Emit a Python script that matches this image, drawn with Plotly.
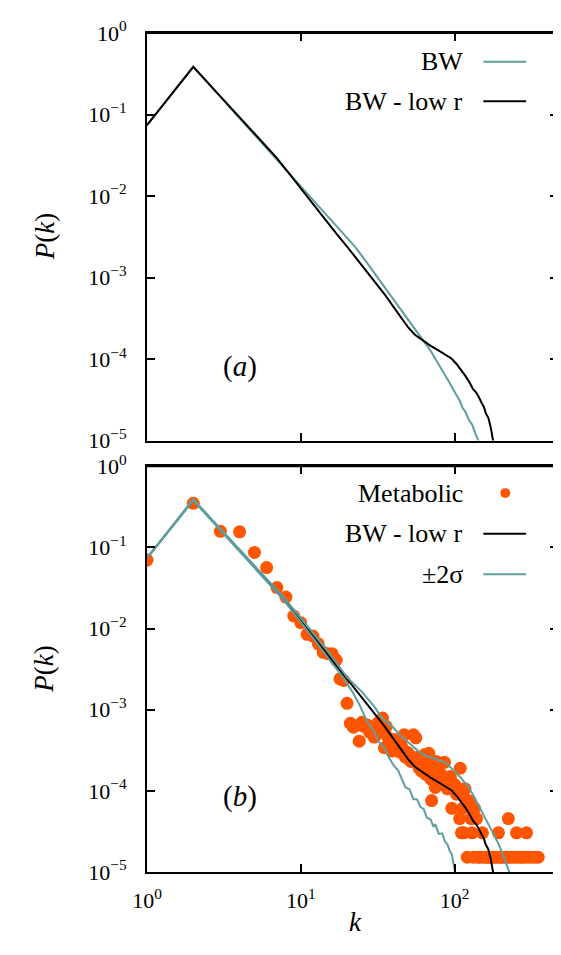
import plotly.graph_objects as go

# ---------------- data ----------------
bw_k = [1, 2, 3, 4, 5, 6, 7, 8, 10, 12, 15, 17, 20, 22.5, 25, 30, 35, 40, 45, 50, 57, 64.6,
        70, 75, 80, 87, 93, 100, 108, 113, 117, 124, 130, 137, 143, 150]
bw_p = [0.0741, 0.3837, 0.1644, 0.0902, 0.0565, 0.0386, 0.0280, 0.0211, 0.01327, 0.00908,
        0.00569, 0.00437, 0.00308, 0.00240, 0.00184, 0.00115, 0.000776, 0.000550, 0.000407,
        0.000309, 0.000219, 0.000160, 0.000126, 0.000101, 8.3e-5, 6.3e-5, 5.1e-5, 3.98e-5,
        3.1e-5, 2.5e-5, 2.3e-5, 1.8e-5, 1.58e-5, 1.2e-5, 1.0e-5, 7.6e-6]

lowr_k = [1, 2, 3, 4, 5, 6, 7, 8, 10, 12, 15, 17, 20, 25, 30, 35, 40, 45, 50, 55, 60, 65, 70,
          80, 90, 96, 103, 109, 117, 125, 132, 138, 143, 150, 155, 160, 166, 172, 179, 186]
lowr_p = [0.0741, 0.3837, 0.167, 0.0927, 0.0586, 0.0404, 0.0292, 0.0213, 0.01239, 0.00796,
          0.00463, 0.00349, 0.0024, 0.00142, 0.00093, 0.000628, 0.00044, 0.000326, 0.000244,
          0.0002, 0.000178, 0.000159, 0.000145, 0.000125, 0.00011, 0.000101, 8.7e-5, 7.6e-5,
          6.3e-5, 5.2e-5, 4.27e-5, 3.9e-5, 3.5e-5, 2.9e-5, 2.6e-5, 2.15e-5, 1.9e-5, 1.45e-5,
          1.0e-5, 6.3e-6]

up_k = [1, 2, 3, 4, 5, 6, 7, 8, 10, 12, 15, 20, 25, 30, 34, 40, 45, 52, 58, 64, 70, 78, 85, 92,
        100, 110, 118, 125, 133, 140, 150, 158, 167, 175, 184, 193, 201, 210, 220, 229, 238]
up_p = [0.0741, 0.395, 0.17, 0.095, 0.060, 0.0412, 0.0300, 0.0226, 0.0136, 0.0088, 0.0053,
        0.0025, 0.00166, 0.0011, 0.00078, 0.000603, 0.000468, 0.000372, 0.000309, 0.000275,
        0.000257, 0.00024, 0.000229, 0.000204, 0.000174, 0.000145, 0.000123, 0.000107, 8.7e-5,
        7.2e-5, 5.6e-5, 4.7e-5, 3.8e-5, 3.24e-5, 2.7e-5, 2.24e-5, 1.86e-5, 1.51e-5, 1.23e-5,
        1.0e-5, 7.9e-6]

lo_k = [1, 2, 3, 4, 5, 6, 7, 8, 10, 12, 15, 18, 21.7, 24, 27, 30, 32, 35, 37, 40, 43, 46, 48,
        51, 54, 57, 60, 63, 66, 70, 73, 75, 79, 83, 87, 90, 93, 96, 99, 101, 104]
lo_p = [0.0741, 0.38, 0.163, 0.09, 0.0565, 0.0385, 0.0277, 0.0208, 0.0122, 0.0077, 0.0044,
        0.0028, 0.00166, 0.00117, 0.000714, 0.000537, 0.000407, 0.000339, 0.000269, 0.000209,
        0.000178, 0.000129, 0.00011, 0.000105, 7.9e-5, 7.9e-5, 6.3e-5, 6.0e-5, 4.7e-5, 4.4e-5,
        3.6e-5, 3.9e-5, 2.95e-5, 3.0e-5, 2.34e-5, 2.19e-5, 1.82e-5, 1.66e-5, 1.2e-5, 1.07e-5,
        7.1e-6]

met_k = [1, 2, 3, 4, 5, 6, 7, 8, 9, 10, 11, 12, 13, 14, 15, 16, 17, 18, 19, 20, 21, 22, 23, 24,
         25, 26, 27, 28, 29, 30, 31, 32, 33, 34, 35, 36, 37, 38, 39, 40, 41, 42, 43, 44, 45, 46,
         47, 48, 49, 50, 52, 53, 54, 55, 56, 57, 58, 59, 60, 61, 62, 63, 64, 65, 66, 67, 68, 69,
         70, 71, 72, 73, 74, 75, 76, 78, 79, 80, 82, 84, 86, 88, 90, 92, 94, 96, 98, 100, 103,
         106, 108, 109, 111, 113, 115, 117, 120, 121, 123, 126, 128, 130, 133, 135, 139, 142,
         146, 152, 155, 160, 165, 171, 176, 182, 188, 193, 197, 205, 212, 219, 224, 230, 240,
         248, 253, 262, 271, 283, 294, 301, 318, 336, 350]
met_p = [0.070, 0.350, 0.158, 0.156, 0.087, 0.0565, 0.032, 0.0245, 0.0143, 0.0118, 0.0085,
         0.0081, 0.0065, 0.0051, 0.0049, 0.0049, 0.0041, 0.0024, 0.0023, 0.0012, 0.00068,
         0.00061, 0.00064, 0.00041, 0.00070, 0.00062, 0.00065, 0.00053, 0.00053, 0.00046,
         0.00049, 0.00070, 0.00056, 0.00079, 0.00034, 0.00062, 0.00045, 0.00040, 0.00031,
         0.00038, 0.00043, 0.00035, 0.00032, 0.00030, 0.00041, 0.00033, 0.00049, 0.00026,
         0.00030, 0.00029, 0.00023, 0.00026, 0.00049, 0.00024, 0.00045, 0.00023, 0.00026,
         0.00019, 0.00024, 0.000175, 0.00021, 0.00023, 0.00028, 0.00016, 0.00017, 0.00021,
         0.00029, 0.00018, 0.00014, 0.000076, 0.00015, 0.00020, 0.000125, 0.00011, 0.00023,
         0.00014, 0.000215, 0.00017, 0.00012, 0.00015, 0.000225, 0.00014, 0.000106, 0.00012,
         0.00015, 0.000061, 0.000106, 0.00012, 0.000091, 0.000106, 0.0000456, 0.00019,
         0.0000304, 0.000061, 0.0000304, 0.000106, 0.000076, 0.0000152, 0.000076, 0.000069,
         0.0000456, 0.0000304, 0.0000152, 0.000061, 0.0000456, 0.0000152, 0.0000152,
         0.0000304, 0.0000152, 0.0000152, 0.0000152, 0.0000152, 0.0000152, 0.0000152,
         0.0000152, 0.0000304, 0.0000152, 0.0000152, 0.0000152, 0.0000152, 0.0000456,
         0.0000152, 0.0000152, 0.0000152, 0.0000304, 0.0000152, 0.0000152, 0.0000152,
         0.0000304, 0.0000152, 0.0000152, 0.0000152, 0.0000152]

# ticks: labelled decades, plus unlabelled minor ticks on an overlay axis
x_major = [1, 10, 100]
x_major_text = ["10<sup>0</sup>", "10<sup>1</sup>", "10<sup>2</sup>"]
x_minor = [2, 3, 4, 5, 6, 7, 8, 9, 20, 30, 40, 50, 60, 70, 80, 90, 200, 300, 400]
y_major = [1e-5, 1e-4, 1e-3, 1e-2, 1e-1, 1]
y_major_text = ["10<sup>\u22125</sup>", "10<sup>\u22124</sup>", "10<sup>\u22123</sup>",
                "10<sup>\u22122</sup>", "10<sup>\u22121</sup>", "10<sup>0</sup>"]
y_minor = [2e-5, 5e-5, 2e-4, 5e-4, 2e-3, 5e-3, 2e-2, 5e-2, 2e-1, 5e-1]

# ---------------- styles ----------------
TEAL = "#5f9ea0"
ORANGE = "#ff5500"
FONT = "Liberation Serif, Times New Roman, Times, serif"
XRANGE = [0, 2.673]
YRANGE = [-5, 0]

fig = go.Figure()

fig.add_trace(go.Scatter(x=bw_k, y=bw_p, mode="lines", line=dict(color=TEAL, width=2),
                         xaxis="x", yaxis="y", showlegend=False))
fig.add_trace(go.Scatter(x=lowr_k, y=lowr_p, mode="lines", line=dict(color="black", width=2),
                         xaxis="x", yaxis="y", showlegend=False))
fig.add_trace(go.Scatter(x=met_k, y=met_p, mode="markers",
                         marker=dict(color=ORANGE, size=13, line=dict(width=0)),
                         xaxis="x2", yaxis="y2", showlegend=False))
fig.add_trace(go.Scatter(x=lowr_k, y=lowr_p, mode="lines", line=dict(color="black", width=2),
                         xaxis="x2", yaxis="y2", showlegend=False))
fig.add_trace(go.Scatter(x=up_k, y=up_p, mode="lines", line=dict(color=TEAL, width=2),
                         xaxis="x2", yaxis="y2", showlegend=False))
fig.add_trace(go.Scatter(x=lo_k, y=lo_p, mode="lines", line=dict(color=TEAL, width=2),
                         xaxis="x2", yaxis="y2", showlegend=False))

TICKFONT = dict(family=FONT, size=22, color="black")

def xax(anchor, labels):
    return dict(type="log", range=XRANGE, anchor=anchor, showgrid=False, zeroline=False,
                showline=True, linecolor="black", linewidth=2, mirror="ticks",
                ticks="inside", ticklen=8, tickwidth=1.5, tickcolor="black",
                tickmode="array", tickvals=x_major, ticktext=x_major_text,
                showticklabels=labels, ticklabelstandoff=8, tickfont=TICKFONT)

def yax(anchor, domain):
    return dict(type="log", range=YRANGE, anchor=anchor, domain=domain, showgrid=False,
                zeroline=False, showline=True, linecolor="black", linewidth=2,
                mirror="ticks", ticks="inside", ticklen=8, tickwidth=1.5, tickcolor="black",
                tickmode="array", tickvals=y_major, ticktext=y_major_text,
                ticklabelstandoff=14, tickfont=TICKFONT)

def xminor(over, anchor):
    return dict(type="log", range=XRANGE, overlaying=over, anchor=anchor, showgrid=False,
                zeroline=False, showline=False, mirror="ticks", ticks="inside", ticklen=4,
                tickwidth=1, tickcolor="black", tickmode="array", tickvals=x_minor,
                showticklabels=False)

def yminor(over, anchor):
    return dict(type="log", range=YRANGE, overlaying=over, anchor=anchor, showgrid=False,
                zeroline=False, showline=False, mirror="ticks", ticks="inside", ticklen=4,
                tickwidth=1, tickcolor="black", tickmode="array", tickvals=y_minor,
                showticklabels=False)

fig.update_layout(
    width=561, height=955,
    margin=dict(l=139, r=9, t=16, b=91),
    paper_bgcolor="white", plot_bgcolor="white",
    font=dict(family=FONT, color="black"),
    xaxis=xax("y", False),
    yaxis=yax("x", [0.5142, 1.0]),
    xaxis2=xax("y2", True),
    yaxis2=yax("x2", [0.0, 0.4835]),
    xaxis3=xminor("x", "y"),
    yaxis3=yminor("y", "x"),
    xaxis4=xminor("x2", "y2"),
    yaxis4=yminor("y2", "x2"),
    showlegend=False,
)

ann = []
shapes = []
LEG = dict(family=FONT, size=26, color="black")

# frame: top and right borders of both panels
for y0, y1 in ((0.5142, 1.0), (0.0, 0.4835)):
    shapes.append(dict(type="line", xref="paper", yref="paper", x0=0, x1=1, y0=y1, y1=y1,
                       line=dict(color="black", width=2), layer="above"))
    shapes.append(dict(type="line", xref="paper", yref="paper", x0=1, x1=1, y0=y0, y1=y1,
                       line=dict(color="black", width=2), layer="above"))

def leg_text(text, yd, yref, xref):
    ann.append(dict(text=text, x=0.7748, y=yd, xref=xref, yref=yref, xanchor="right",
                    yanchor="middle", showarrow=False, font=LEG))

def leg_line(color, yd, yref, xref):
    shapes.append(dict(type="line", x0=0.8184, x1=0.9225, y0=yd, y1=yd, xref=xref, yref=yref,
                       line=dict(color=color, width=2)))

leg_text("BW", 0.9296, "y domain", "x domain")
leg_line(TEAL, 0.9296, "y domain", "x domain")
leg_text("BW - low r", 0.8325, "y domain", "x domain")
leg_line("black", 0.8325, "y domain", "x domain")
leg_text("Metabolic", 0.934, "y2 domain", "x2 domain")
shapes.append(dict(type="circle", xref="x2 domain", yref="y2 domain",
                   x0=0.8717 - 0.0121, x1=0.8717 + 0.0121, y0=0.934 - 0.0122, y1=0.934 + 0.0122,
                   fillcolor=ORANGE, line=dict(width=0)))
leg_text("BW - low r", 0.834, "y2 domain", "x2 domain")
leg_line("black", 0.834, "y2 domain", "x2 domain")
leg_text("\u00b12\u03c3", 0.734, "y2 domain", "x2 domain")
leg_line(TEAL, 0.734, "y2 domain", "x2 domain")

ann.append(dict(text="(<i>a</i>)", x=0.179, y=0.136, xref="x domain", yref="y domain",
                showarrow=False, font=dict(family=FONT, size=29, color="black")))
ann.append(dict(text="(<i>b</i>)", x=0.179, y=0.1415, xref="x2 domain", yref="y2 domain",
                showarrow=False, font=dict(family=FONT, size=29, color="black")))
ann.append(dict(text="<i>P</i>(<i>k</i>)", x=-0.2906, y=0.5, xref="paper", yref="y domain",
                textangle=-90, showarrow=False, font=dict(family=FONT, size=27, color="black")))
ann.append(dict(text="<i>P</i>(<i>k</i>)", x=-0.2906, y=0.5, xref="paper", yref="y2 domain",
                textangle=-90, showarrow=False, font=dict(family=FONT, size=27, color="black")))
ann.append(dict(text="<i>k</i>", x=0.5085, y=-0.166, xref="x2 domain", yref="y2 domain",
                showarrow=False, font=dict(family=FONT, size=27, color="black")))

fig.update_layout(annotations=ann, shapes=shapes)
fig.write_html("out.html")
